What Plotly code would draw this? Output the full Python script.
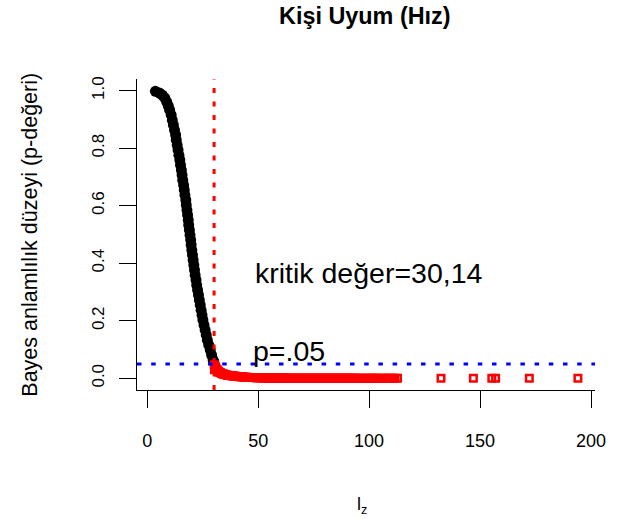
import plotly.graph_objects as go

# Person-fit statistic l_z and its Bayesian significance level (p-value)
critical_value = 30.14
alpha = 0.05

# persons whose p-value is above .05
fit_lz = [3.7, 5.5, 6.8, 7.9, 8.8, 9.5, 10.1, 10.8, 11.3, 11.8, 12.3, 12.8, 13.1, 13.5,
          13.9, 14.3, 14.7, 15.0, 15.4, 15.7, 16.0, 16.4, 16.7, 17.0, 17.4, 17.6, 17.9,
          18.2, 18.5, 18.7, 19.0, 19.3, 19.6, 19.8, 20.1, 20.4, 20.7, 21.0, 21.3, 21.6,
          22.0, 22.3, 22.7, 23.1, 23.5, 23.9, 24.3, 24.7, 25.1, 25.6, 26.1, 26.6, 27.1,
          27.7, 28.4, 29.0, 29.7, 30.0]
fit_p = [0.998, 0.992, 0.985, 0.975, 0.961, 0.947, 0.933, 0.916, 0.898, 0.881, 0.863,
         0.846, 0.829, 0.811, 0.794, 0.776, 0.759, 0.742, 0.724, 0.707, 0.689, 0.672,
         0.655, 0.637, 0.620, 0.603, 0.585, 0.568, 0.550, 0.533, 0.516, 0.498, 0.481,
         0.464, 0.446, 0.429, 0.411, 0.394, 0.377, 0.359, 0.342, 0.324, 0.307, 0.290,
         0.272, 0.255, 0.237, 0.220, 0.203, 0.185, 0.168, 0.151, 0.133, 0.116, 0.099,
         0.081, 0.064, 0.057]

# persons flagged as misfitting (p-value at or below .05)
misfit_lz = [30.2, 30.3, 30.4, 30.6, 30.8, 31.0, 31.3, 31.5, 31.8, 32.1, 32.4, 32.8, 33.1,
             33.5, 33.9, 34.3, 34.6, 35.1, 35.5, 36.0, 36.4, 36.8, 37.2, 37.8, 38.3,
             38.7, 39.1, 39.6, 40.0, 40.6, 41.2, 41.7, 42.1, 42.6, 43.0, 43.6, 44.2,
             44.7, 45.1, 45.7, 46.3, 46.8, 47.2, 47.8, 48.4, 48.9, 49.3, 49.9, 50.5,
             51.0, 51.4, 52.0, 52.6, 53.1, 53.5, 54.1, 54.7, 55.2, 55.6, 56.2, 56.8,
             57.3, 57.9, 58.5, 59.0, 59.6, 60.1, 60.7, 61.3, 61.8, 62.2, 62.8, 63.4,
             64.0, 64.5, 65.1, 65.6, 66.2, 66.8, 67.4, 67.9, 68.5, 69.1, 69.7, 70.2,
             70.8, 71.3, 71.9, 72.5, 73.1, 73.6, 74.2, 74.8, 75.3, 75.9, 76.5, 77.0,
             77.6, 78.2, 78.7, 79.3, 79.9, 80.4, 81.0, 81.6, 82.1, 82.7, 83.3, 83.9,
             84.4, 85.0, 85.5, 86.1, 86.7, 87.3, 87.8, 88.4, 89.0, 89.6, 90.1, 90.7,
             91.2, 91.8, 92.4, 92.9, 93.6, 94.3, 95.3, 96.2, 97.2, 98.4, 99.4, 100.2,
             101.0, 101.8, 102.6, 103.5, 104.3, 105.5, 106.7, 107.9, 108.7, 109.5,
             110.6, 111.6, 112.8, 132.4, 147.0, 155.3, 157.0, 172.2, 194.1]
misfit_p = [0.047, 0.030, 0.044, 0.041, 0.038, 0.035, 0.031, 0.029, 0.026, 0.024, 0.022,
            0.020, 0.019, 0.017, 0.016, 0.015, 0.014, 0.013, 0.012, 0.011, 0.011, 0.010,
            0.010, 0.009, 0.009, 0.008, 0.008, 0.007, 0.007, 0.006, 0.006, 0.005, 0.005,
            0.005, 0.005, 0.004, 0.004, 0.004, 0.004, 0.003, 0.003, 0.003, 0.003, 0.003,
            0.003, 0.002, 0.002, 0.002, 0.002, 0.002, 0.002, 0.002, 0.001, 0.001, 0.001,
            0.001, 0.001, 0.001, 0.001, 0.001, 0.001, 0.001, 0.001, 0.001, 0.001, 0.001,
            0.001, 0.001, 0.001, 0.001, 0.001, 0.0, 0.0, 0.0, 0.0, 0.0, 0.0, 0.0, 0.0, 0.0,
            0.0, 0.0, 0.0, 0.0, 0.0, 0.0, 0.0, 0.0, 0.0, 0.0, 0.0, 0.0, 0.0, 0.0, 0.0,
            0.0, 0.0, 0.0, 0.0, 0.0, 0.0, 0.0, 0.0, 0.0, 0.0, 0.0, 0.0, 0.0, 0.0, 0.0,
            0.0, 0.0, 0.0, 0.0, 0.0, 0.0, 0.0, 0.0, 0.0, 0.0, 0.0, 0.0, 0.0, 0.0, 0.0,
            0.0, 0.0, 0.0, 0.0, 0.0, 0.0, 0.0, 0.0, 0.0, 0.0, 0.0, 0.0, 0.0, 0.0, 0.0,
            0.0, 0.0, 0.0, 0.0, 0.0, 0.0, 0.0, 0.0, 0.0, 0.0, 0.0, 0.0, 0.0]

x_ticks = [0, 50, 100, 150, 200]
y_ticks = [0.0, 0.2, 0.4, 0.6, 0.8, 1.0]
y_tick_labels = ["0.0", "0.2", "0.4", "0.6", "0.8", "1.0"]

FONT = "Liberation Sans, Arial, sans-serif"

fig = go.Figure()
fig.add_trace(go.Scatter(
    x=fit_lz, y=fit_p, mode="markers",
    marker=dict(symbol="circle", size=11, color="#000000", line=dict(width=0)),
    showlegend=False, hoverinfo="x+y"))
fig.add_trace(go.Scatter(
    x=misfit_lz, y=misfit_p, mode="markers",
    marker=dict(symbol="square-open", size=6.5, color="#FF0000",
                line=dict(width=2.5, color="#FF0000")),
    showlegend=False, hoverinfo="x+y"))

# critical l_z value and the .05 level
fig.add_shape(type="line", xref="x", yref="paper", x0=critical_value, x1=critical_value,
              y0=0, y1=1, line=dict(color="#FF0000", width=3, dash="5px,8.5px"))
fig.add_shape(type="line", xref="paper", yref="y", x0=0, x1=1, y0=alpha, y1=alpha,
              line=dict(color="#0000FF", width=3, dash="4.5px,9.7px"))

fig.add_annotation(x=47.5, y=0.365, xref="x", yref="y", text="kritik değer=30,14",
                   showarrow=False, xanchor="left", yanchor="middle",
                   font=dict(family=FONT, size=28.5, color="#000000"))
fig.add_annotation(x=46.6, y=0.095, xref="x", yref="y", text="p=.05",
                   showarrow=False, xanchor="left", yanchor="middle",
                   font=dict(family=FONT, size=28.5, color="#000000"))

# title and axis titles
fig.add_annotation(x=0.497, y=1.2026, xref="paper", yref="paper",
                   text="<b>Kişi Uyum (Hız)</b>", showarrow=False,
                   xanchor="center", yanchor="middle",
                   font=dict(family=FONT, size=23.4, color="#000000"))
fig.add_annotation(x=-0.2324, y=0.498, xref="paper", yref="paper",
                   text="Bayes anlamlılık düzeyi (p-değeri)", textangle=-90,
                   showarrow=False, xanchor="center", yanchor="middle",
                   font=dict(family=FONT, size=21.5, color="#000000"))
fig.add_annotation(x=0.491, y=-0.37, xref="paper", yref="paper",
                   text="l<sub>z</sub>", showarrow=False,
                   xanchor="center", yanchor="middle",
                   font=dict(family=FONT, size=18, color="#000000"))

fig.update_xaxes(range=[-4.6, 201.8], tickvals=x_ticks, ticks="outside", ticklen=17,
                 tickwidth=1, tickcolor="#000000", showline=True, linecolor="#000000",
                 linewidth=1, showgrid=False, zeroline=False, ticklabelstandoff=17,
                 ticklabeloverflow="allow",
                 tickfont=dict(family=FONT, size=18, color="#000000"))
fig.update_yaxes(range=[-0.0407, 1.0407], tickvals=y_ticks, ticktext=y_tick_labels,
                 ticks="outside", ticklen=17, tickwidth=1, tickcolor="#000000",
                 showline=True, linecolor="#000000", linewidth=1, showgrid=False,
                 zeroline=False, tickangle=-90, ticklabelstandoff=8,
                 tickfont=dict(family=FONT, size=17, color="#000000"))

fig.update_layout(width=617, height=519, margin=dict(l=137, r=11, t=79, b=129),
                  paper_bgcolor="#FFFFFF", plot_bgcolor="#FFFFFF")

fig.write_html("out.html")
